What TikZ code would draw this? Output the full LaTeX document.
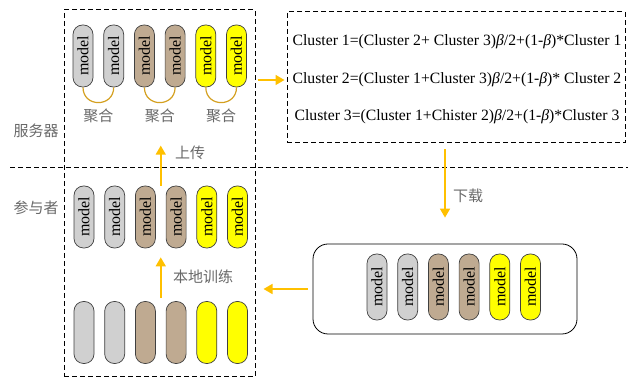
\documentclass[tikz,border=0pt]{standalone}
\usepackage{fontspec}
\setmainfont{Liberation Serif}
\newfontfamily\cjk{Noto Sans CJK SC}
\usepackage{graphicx}
\usetikzlibrary{positioning, arrows.meta, calc}

\definecolor{grayc}{RGB}{208,208,208}
\definecolor{tanc}{RGB}{191,170,145}
\definecolor{yellowc}{RGB}{255,255,0}
\definecolor{flowc}{RGB}{255,192,0}
\definecolor{mergec}{RGB}{212,160,32}
\definecolor{labelc}{RGB}{105,105,105}

\begin{document}
\begin{tikzpicture}[
    x=1pt, y=1pt,
    pill/.style={rectangle, draw=black!75, line width=0.7pt, rounded corners=9.5pt, minimum width=20pt, minimum height=62pt, inner sep=0pt, font=\fontsize{16}{16}\selectfont},
    frame/.style={rectangle, draw, line width=1pt, dash pattern=on 5pt off 3pt, inner sep=0pt},
    flow/.style={draw=flowc, line width=1.6pt, -{Triangle[length=9pt,width=10pt]}},
    merge/.style={draw=mergec, line width=1.2pt},
    lbl/.style={text=labelc, font=\cjk\fontsize{15}{15}\selectfont},
    eq/.style={font=\fontsize{15.7}{16}\selectfont},
    node distance=10pt
]
    \useasboundingbox (0,0) rectangle (628,379);

    % one row of six models: name prefix, first position, extra options, text
    \newcommand{\modelrow}[4]{
        \node[pill, fill=grayc, #3] (#11) at #2 {#4};
        \node[pill, fill=grayc, #3, right=of #11] (#12) {#4};
        \node[pill, fill=tanc, #3, right=of #12] (#13) {#4};
        \node[pill, fill=tanc, #3, right=of #13] (#14) {#4};
        \node[pill, fill=yellowc, #3, right=of #14] (#15) {#4};
        \node[pill, fill=yellowc, #3, right=of #15] (#16) {#4};
    }
    \newcommand{\mtext}{\rotatebox{90}{model}}

    % frames
    \node[frame, minimum width=191pt, minimum height=367pt] (lbox) at (159.5,185.5) {};
    \node[frame, minimum width=338pt, minimum height=131pt] (cbox) at (456,301.5) {};
    \node[rectangle, draw, line width=0.8pt, rounded corners=15pt, minimum width=264pt, minimum height=90pt] (dlbox) at (445,90) {};
    \draw[line width=1pt, dash pattern=on 5pt off 3pt] (10,211) -- (628,211);

    \node[lbl] (server) at (36,248) {服务器};
    \node[lbl] (client) at (36,171) {参与者};

    % models
    \modelrow{s}{(83,323)}{}{\mtext}
    \modelrow{p}{(84,162)}{}{\mtext}
    \modelrow{r}{(84,46.5)}{}{}
    \modelrow{d}{(377,92)}{minimum height=66pt}{\mtext}

    % aggregation
    \draw[merge] (s1.south) to[out=-90, in=-90, looseness=1.7] node[midway, below=2pt, lbl] (agg1) {聚合} (s2.south);
    \draw[merge] (s3.south) to[out=-90, in=-90, looseness=1.7] node[midway, below=2pt, lbl] (agg2) {聚合} (s4.south);
    \draw[merge] (s5.south) to[out=-90, in=-90, looseness=1.7] node[midway, below=2pt, lbl] (agg3) {聚合} (s6.south);

    % update rules
    \node[eq] (c1) at (457,337) {Cluster 1=(Cluster 2+ Cluster 3)\textit{β}/2+(1-\textit{β})*Cluster 1};
    \node[eq] (c2) at (457,299) {Cluster 2=(Cluster 1+Cluster 3)\textit{β}/2+(1-\textit{β})* Cluster 2};
    \node[eq] (c3) at (457,262) {Cluster 3=(Cluster 1+Chister 2)\textit{β}/2+(1-\textit{β})*Cluster 3};

    % flows
    \coordinate (pmid) at ($(p3.north)!0.5!(p4.north)$);
    \coordinate[above=40pt of pmid] (uptip);
    \draw[flow] (pmid) -- (uptip);
    \node[lbl] (upload) at (190,226) {上传};

    \draw[flow, shorten <=3pt, shorten >=9pt] ($(r3.north)!0.5!(r4.north)$) -- ($(p3.south)!0.5!(p4.south)$);
    \node[lbl] (train) at (203,102) {本地训练};

    \draw[flow, shorten <=2pt, shorten >=2pt] (lbox.east |- c2) -- (cbox.west |- c2);

    \draw[flow, shorten <=6pt, shorten >=26pt] (dlbox.north |- cbox.south) -- (dlbox.north);
    \node[lbl] (download) at (468,183) {下载};

    \draw[flow, shorten <=5pt, shorten >=8pt] (dlbox.west) -- (lbox.east |- dlbox.west);

\end{tikzpicture}
\end{document}
